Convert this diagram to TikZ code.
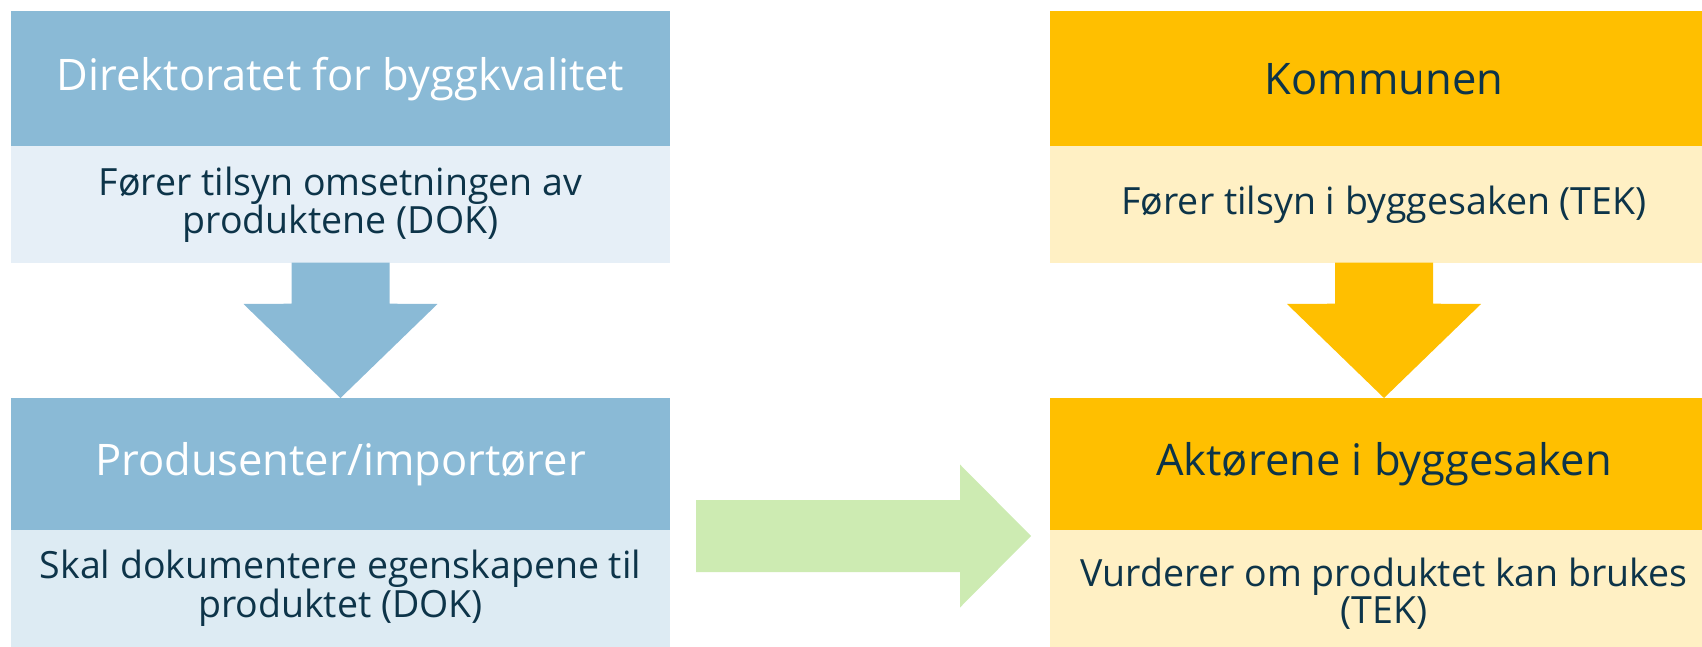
\documentclass[tikz,border=0pt]{standalone}
\usepackage{fontspec}
\setmainfont{Open Sans}
\usetikzlibrary{calc}
\definecolor{bluehead}{HTML}{8ABAD6}
\definecolor{bluebodyA}{HTML}{E6EFF7}
\definecolor{bluebodyB}{HTML}{DDEBF3}
\definecolor{yellowhead}{HTML}{FFBF00}
\definecolor{yellowbody}{HTML}{FFF0C4}
\definecolor{greenarrow}{HTML}{CDEBB2}
\definecolor{navy}{HTML}{0D3449}
\tikzset{
  box/.style={rectangle, inner sep=0pt, outer sep=0pt, align=center},
  headfont/.style={font=\fontsize{43.5}{46}\selectfont},
  bodyfont/.style={font=\fontsize{37.5}{37}\selectfont},
  bluehd/.style={box, headfont, fill=bluehead, text=white},
  bluebd/.style={box, bodyfont, text=navy},
  yellowhd/.style={box, headfont, fill=yellowhead, text=navy},
  yellowbd/.style={box, bodyfont, fill=yellowbody, text=navy},
}
\begin{document}
\begin{tikzpicture}[x=1pt, y=-1pt]
\useasboundingbox (0,0) rectangle (1702,647);
% left column
\node[bluehd, minimum width=659pt, minimum height=135.5pt] (dib) at (340.5,78.75) {Direktoratet for byggkvalitet};
\node[bluebd, fill=bluebodyA, minimum width=659pt, minimum height=116.2pt] (dibb) at (340.5,204.6) {Fører tilsyn omsetningen av\\produktene (DOK)};
\node[bluehd, minimum width=659pt, minimum height=132pt] (prod) at (340.5,464) {Produsenter/importører};
\node[bluebd, fill=bluebodyB, minimum width=659pt, minimum height=117pt] (prodb) at (340.5,588.5) {Skal dokumentere egenskapene til\\produktet (DOK)};
% right column
\node[yellowhd, minimum width=668pt, minimum height=135.5pt] (kom) at (1384,78.75) {Kommunen};
\node[yellowbd, minimum width=668pt, minimum height=116.2pt] (komb) at (1384,204.6) {Fører tilsyn i byggesaken (TEK)};
\node[yellowhd, minimum width=668pt, minimum height=132pt] (akt) at (1384,464) {Aktørene i byggesaken};
\node[yellowbd, minimum width=668pt, minimum height=117pt] (aktb) at (1384,588.5) {\raisebox{-5pt}[\height][\depth]{\parbox{668pt}{\centering Vurderer om produktet kan brukes\\(TEK)}}};
% down arrows
\fill[bluehead] ($(dibb.south)+(-49,0)$) -- ($(dibb.south)+(-49,41)$) -- ($(prod.north)+(-97,-94)$) -- (prod.north) -- ($(prod.north)+(97,-94)$) -- ($(dibb.south)+(49,41)$) -- ($(dibb.south)+(49,0)$) -- cycle;
\fill[yellowhead] ($(komb.south)+(-49,0)$) -- ($(komb.south)+(-49,41)$) -- ($(akt.north)+(-97,-94)$) -- (akt.north) -- ($(akt.north)+(97,-94)$) -- ($(komb.south)+(49,41)$) -- ($(komb.south)+(49,0)$) -- cycle;
% right arrow
\coordinate (gs) at ($(prodb.north east)+(26,6)$);
\coordinate (gt) at ($(aktb.north west)+(-19,6)$);
\fill[greenarrow] ($(gs)+(0,-36)$) -- ($(gt)+(-71,-36)$) -- ($(gt)+(-71,-71.5)$) -- (gt) -- ($(gt)+(-71,71.5)$) -- ($(gt)+(-71,36)$) -- ($(gs)+(0,36)$) -- cycle;
\end{tikzpicture}
\end{document}
